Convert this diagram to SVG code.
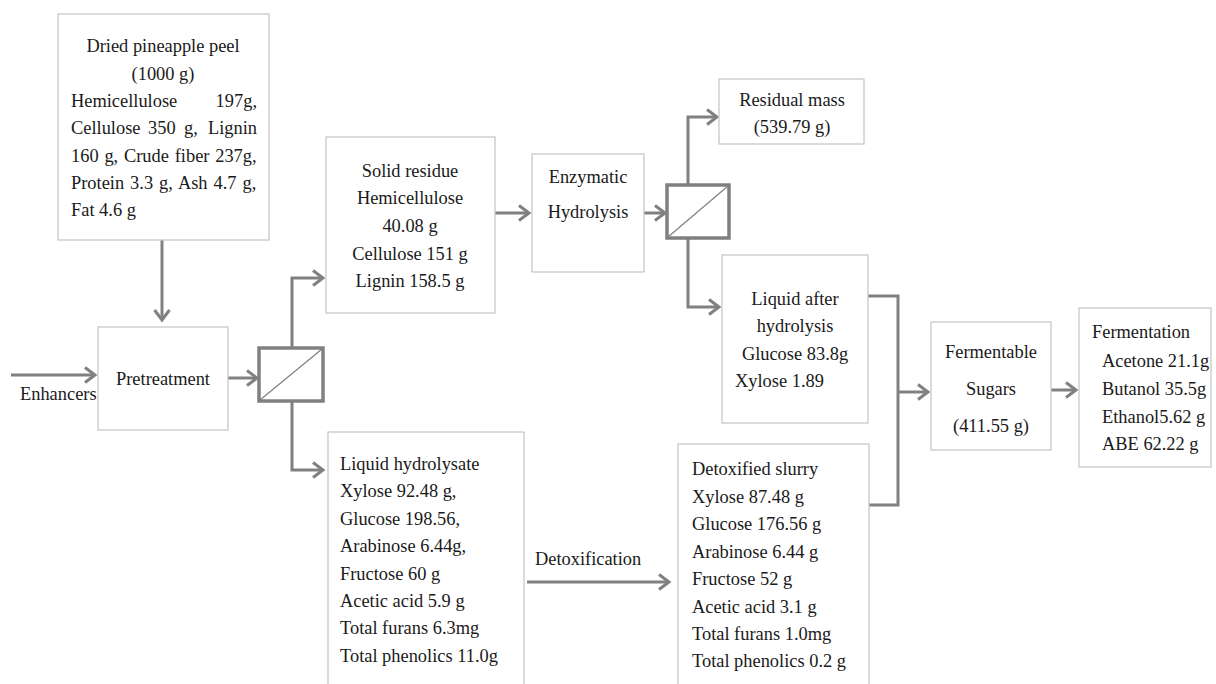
<svg xmlns="http://www.w3.org/2000/svg" width="1216" height="684" viewBox="0 0 1216 684">
<style>
.box{fill:#fff;stroke:#c8c8c8;stroke-width:1.3}
.sep{fill:#fff;stroke:#808080;stroke-width:3.5}
.diag{stroke:#808080;stroke-width:1.2}
.con{fill:none;stroke:#808080;stroke-width:3}
text{font-size:18.4px;fill:#1a1a1a}
.c{text-anchor:middle}
.e{text-anchor:end}
</style>
<defs>
<marker id="arr" markerUnits="userSpaceOnUse" markerWidth="20" markerHeight="20" viewBox="-12 -10 14 20" refX="0" refY="0" orient="auto" overflow="visible">
<path d="M-10,-7.5 L0,0 L-10,7.5" fill="none" stroke="#808080" stroke-width="3"/>
</marker>
</defs>
<rect width="1216" height="684" fill="#fff"/>
<g id="connectors">
<line class="con" x1="162" y1="240" x2="162" y2="320" marker-end="url(#arr)"/>
<line class="con" x1="11" y1="375" x2="95" y2="375" marker-end="url(#arr)"/>
<line class="con" x1="228" y1="378" x2="257" y2="378" marker-end="url(#arr)"/>
<polyline class="con" points="292,348 292,278 323,278" marker-end="url(#arr)"/>
<polyline class="con" points="292,401 292,470 323,470" marker-end="url(#arr)"/>
<line class="con" x1="495" y1="213" x2="529" y2="213" marker-end="url(#arr)"/>
<line class="con" x1="644" y1="213" x2="665" y2="213" marker-end="url(#arr)"/>
<polyline class="con" points="688,185 688,117 717,117" marker-end="url(#arr)"/>
<polyline class="con" points="688,238 688,307 719,307" marker-end="url(#arr)"/>
<polyline class="con" points="868,296 898,296 898,505 869,505"/>
<line class="con" x1="898" y1="392" x2="928" y2="392" marker-end="url(#arr)"/>
<line class="con" x1="1051" y1="390" x2="1076" y2="390" marker-end="url(#arr)"/>
<line class="con" x1="527" y1="582" x2="669" y2="582" marker-end="url(#arr)"/>
</g>
<g font-family="'Liberation Serif', Tinos, 'Times New Roman', Times, 'DejaVu Serif', serif">
<g id="dried">
<rect class="box" x="58" y="14" width="211" height="226"/>
<text class="c" x="163" y="52">Dried pineapple peel</text>
<text class="c" x="163" y="80">(1000 g)</text>
<text x="71" y="107">Hemicellulose</text>
<text class="e" x="257" y="107">197g,</text>
<text y="134"><tspan x="71">Cellulose</tspan><tspan x="148">350</tspan><tspan x="184">g,</tspan></text>
<text class="e" x="257" y="134">Lignin</text>
<text x="71" y="162" word-spacing="1.2">160 g, Crude fiber 237g,</text>
<text x="71" y="189" word-spacing="1.4">Protein 3.3 g, Ash 4.7 g,</text>
<text x="71" y="216">Fat 4.6 g</text>
</g>
<g id="enhancers">
<text x="20" y="400">Enhancers</text>
</g>
<g id="pretreatment">
<rect class="box" x="98" y="327" width="130" height="103"/>
<text class="c" x="163" y="385">Pretreatment</text>
</g>
<g id="separator1">
<rect class="sep" x="259" y="348" width="64" height="53"/>
<line class="diag" x1="260" y1="400" x2="322" y2="349"/>
</g>
<g id="solid-residue">
<rect class="box" x="326" y="137" width="169" height="176"/>
<text class="c" x="410" y="177">Solid residue</text>
<text class="c" x="410" y="204">Hemicellulose</text>
<text class="c" x="410" y="232">40.08 g</text>
<text class="c" x="410" y="260">Cellulose 151 g</text>
<text class="c" x="410" y="287">Lignin 158.5 g</text>
</g>
<g id="enzymatic">
<rect class="box" x="532" y="154" width="112" height="118"/>
<text class="c" x="588" y="183">Enzymatic</text>
<text class="c" x="588" y="218">Hydrolysis</text>
</g>
<g id="separator2">
<rect class="sep" x="667" y="185" width="62" height="53"/>
<line class="diag" x1="668" y1="237" x2="728" y2="186"/>
</g>
<g id="residual">
<rect class="box" x="719" y="79" width="145" height="65"/>
<text class="c" x="792" y="106">Residual mass</text>
<text class="c" x="792" y="133">(539.79 g)</text>
</g>
<g id="liquid-after">
<rect class="box" x="722" y="255" width="146" height="168"/>
<text class="c" x="795" y="305">Liquid after</text>
<text class="c" x="795" y="332">hydrolysis</text>
<text class="c" x="795" y="360">Glucose 83.8g</text>
<text x="735" y="387">Xylose 1.89</text>
</g>
<g id="fermentable">
<rect class="box" x="931" y="322" width="120" height="128"/>
<text class="c" x="991" y="358">Fermentable</text>
<text class="c" x="991" y="395">Sugars</text>
<text class="c" x="991" y="432">(411.55 g)</text>
</g>
<g id="fermentation">
<rect class="box" x="1079" y="308" width="132" height="159"/>
<text x="1092" y="338">Fermentation</text>
<text x="1102" y="367">Acetone 21.1g</text>
<text x="1102" y="395">Butanol 35.5g</text>
<text x="1102" y="423">Ethanol5.62 g</text>
<text x="1102" y="450">ABE 62.22 g</text>
</g>
<g id="liquid-hydrolysate">
<rect class="box" x="328" y="432" width="196" height="270"/>
<text x="340" y="470">Liquid hydrolysate</text>
<text x="340" y="497">Xylose 92.48 g,</text>
<text x="340" y="525">Glucose 198.56,</text>
<text x="340" y="552">Arabinose 6.44g,</text>
<text x="340" y="580">Fructose 60 g</text>
<text x="340" y="607">Acetic acid 5.9 g</text>
<text x="340" y="634">Total furans 6.3mg</text>
<text x="340" y="662">Total phenolics 11.0g</text>
</g>
<g id="detox-label">
<text x="535" y="565">Detoxification</text>
</g>
<g id="detoxified">
<rect class="box" x="678" y="444" width="191" height="260"/>
<text x="692" y="475">Detoxified slurry</text>
<text x="692" y="503">Xylose 87.48 g</text>
<text x="692" y="530">Glucose 176.56 g</text>
<text x="692" y="558">Arabinose 6.44 g</text>
<text x="692" y="585">Fructose 52 g</text>
<text x="692" y="613">Acetic acid 3.1 g</text>
<text x="692" y="640">Total furans 1.0mg</text>
<text x="692" y="667">Total phenolics 0.2 g</text>
</g>
</g>
</svg>
